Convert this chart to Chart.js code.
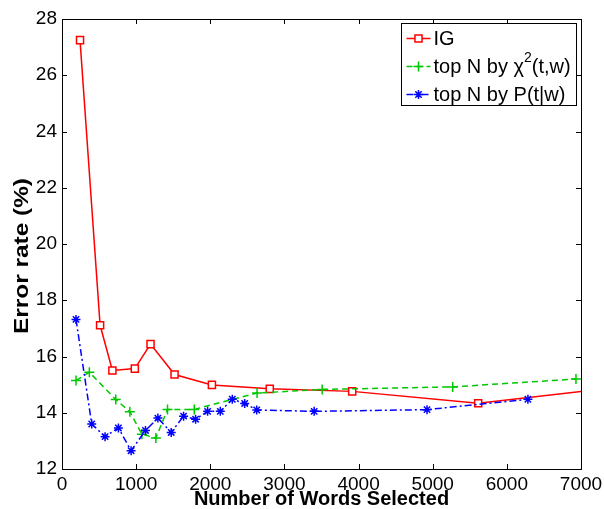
<!DOCTYPE html>
<html>
<head>
<meta charset="utf-8">
<script src="https://cdn.jsdelivr.net/npm/chart.js@4.4.0/dist/chart.umd.min.js"></script>
<style>
  body { margin: 0; background: #fff; }
  #wrap { width: 604px; height: 509px; }
</style>
</head>
<body>
<div id="wrap"><canvas id="errChart" width="604" height="509"></canvas></div>
<script>
// values
const seriesNames = ['IG', 'top N by χ^2(t,w)', 'top N by P(t|w)'];

const igWords = [243, 514, 680, 982, 1194, 1518, 2022, 2802, 3914, 5613, 7800];
const igError = [27.25, 17.11, 15.50, 15.57, 16.44, 15.36, 14.99, 14.85, 14.76, 14.34, 14.99];

const chiWords = [189, 369, 725, 915, 1077, 1266, 1423, 1784, 2631, 3509, 5270, 6932];
const chiError = [15.15, 15.44, 14.47, 14.04, 13.24, 13.10, 14.12, 14.12, 14.70, 14.83, 14.92, 15.20];

const ptwWords = [189, 401, 581, 761, 932, 1126, 1293, 1473, 1640, 1802, 1964, 2135, 2297, 2464, 2626, 3401, 4923, 6284];
const ptwError = [17.32, 13.60, 13.15, 13.46, 12.65, 13.37, 13.81, 13.30, 13.88, 13.77, 14.05, 14.05, 14.48, 14.33, 14.10, 14.05, 14.11, 14.48];

const xTicks = [0, 1000, 2000, 3000, 4000, 5000, 6000, 7000];
const yTicks = [12, 14, 16, 18, 20, 22, 24, 26, 28];

const FONT = '"Liberation Sans", Arial, Helvetica, sans-serif';

function toPoints(xs, ys) {
  return xs.map((x, i) => ({ x: x, y: ys[i] }));
}

// draws one marker the way the chart does (used by the legend)
function drawMarker(ctx, style, x, y, r) {
  ctx.beginPath();
  if (style === 'rect') {
    const s = r / Math.SQRT2;
    ctx.rect(x - s, y - s, 2 * s, 2 * s);
    ctx.fill();
  } else if (style === 'cross') {
    ctx.moveTo(x - r, y); ctx.lineTo(x + r, y);
    ctx.moveTo(x, y - r); ctx.lineTo(x, y + r);
  } else {
    const d = r * Math.SQRT1_2;
    ctx.moveTo(x - r, y); ctx.lineTo(x + r, y);
    ctx.moveTo(x, y - r); ctx.lineTo(x, y + r);
    ctx.moveTo(x - d, y - d); ctx.lineTo(x + d, y + d);
    ctx.moveTo(x - d, y + d); ctx.lineTo(x + d, y - d);
  }
  ctx.stroke();
}

// box round the plot with inward ticks on all four sides
const framePlugin = {
  id: 'frame',
  afterDatasetsDraw(chart) {
    const { ctx, chartArea: a, scales } = chart;
    ctx.save();
    ctx.strokeStyle = '#000';
    ctx.lineWidth = 1;
    ctx.setLineDash([]);
    ctx.beginPath();
    xTicks.slice(1, -1).forEach(v => {
      const px = Math.round(scales.x.getPixelForValue(v)) + 0.5;
      ctx.moveTo(px, a.bottom); ctx.lineTo(px, a.bottom - 5);
      ctx.moveTo(px, a.top); ctx.lineTo(px, a.top + 5);
    });
    yTicks.slice(1, -1).forEach(v => {
      const py = Math.round(scales.y.getPixelForValue(v)) + 0.5;
      ctx.moveTo(a.left, py); ctx.lineTo(a.left + 5, py);
      ctx.moveTo(a.right, py); ctx.lineTo(a.right - 5, py);
    });
    ctx.stroke();
    ctx.strokeRect(Math.round(a.left) + 0.5, Math.round(a.top) + 0.5,
      Math.round(a.right - a.left), Math.round(a.bottom - a.top));
    ctx.restore();
  }
};

// y axis title, a bit stretched along its length like the original
const yTitlePlugin = {
  id: 'yTitle',
  afterDraw(chart) {
    const ctx = chart.ctx;
    ctx.save();
    ctx.translate(22, 256);
    ctx.rotate(-Math.PI / 2);
    ctx.scale(1.22, 1);
    ctx.font = 'bold 20px ' + FONT;
    ctx.fillStyle = '#000';
    ctx.textAlign = 'center';
    ctx.textBaseline = 'middle';
    ctx.fillText('Error rate (%)', 0, 0);
    ctx.restore();
  }
};

// legend box in the top right corner of the plot
const legendPlugin = {
  id: 'boxLegend',
  afterDraw(chart) {
    const ctx = chart.ctx;
    const a = chart.chartArea;
    const boxW = 175, boxH = 82;
    const bx = Math.round(a.right - 5 - boxW) + 0.5;
    const by = Math.round(a.top + 4) + 0.5;
    ctx.save();
    ctx.fillStyle = '#fff';
    ctx.fillRect(bx, by, boxW, boxH);
    ctx.strokeStyle = '#000';
    ctx.lineWidth = 1;
    ctx.strokeRect(bx, by, boxW, boxH);

    chart.data.datasets.forEach((ds, i) => {
      const rowY = by + 15 + i * 28;
      const x0 = bx + 5, x1 = bx + 29;
      ctx.strokeStyle = ds.borderColor;
      ctx.lineWidth = ds.borderWidth;
      ctx.setLineDash(ds.borderDash || []);
      ctx.beginPath();
      ctx.moveTo(x0, rowY); ctx.lineTo(x1, rowY);
      ctx.stroke();
      ctx.setLineDash([]);
      ctx.fillStyle = ds.pointBackgroundColor;
      ctx.lineWidth = ds.pointBorderWidth;
      drawMarker(ctx, ds.pointStyle, (x0 + x1) / 2, rowY, ds.pointRadius);

      // label, with "^2" drawn as a superscript
      ctx.fillStyle = '#000';
      ctx.textBaseline = 'middle';
      let tx = bx + 32;
      const parts = seriesNames[i].split('^');
      parts.forEach((part, k) => {
        let txt = part;
        if (k > 0) {
          const sup = part.charAt(0);
          txt = part.slice(1);
          ctx.font = '14px ' + FONT;
          ctx.fillText(sup, tx, rowY - 8);
          tx += ctx.measureText(sup).width;
        }
        ctx.font = '20px ' + FONT;
        ctx.fillText(txt, tx, rowY + 1);
        tx += ctx.measureText(txt).width;
      });
    });
    ctx.restore();
  }
};

new Chart(document.getElementById('errChart'), {
  type: 'scatter',
  data: {
    datasets: [
      {
        label: seriesNames[0],
        data: toPoints(igWords, igError),
        showLine: true,
        borderColor: '#ff0000',
        borderWidth: 1.5,
        pointStyle: 'rect',
        pointRadius: 5,
        pointBorderWidth: 1.5,
        pointBorderColor: '#ff0000',
        pointBackgroundColor: '#ffffff',
        order: 3
      },
      {
        label: seriesNames[1],
        data: toPoints(chiWords, chiError),
        showLine: true,
        borderColor: 'rgb(0,200,0)',
        borderWidth: 1.5,
        borderDash: [6, 4],
        pointStyle: 'cross',
        pointRadius: 5,
        pointBorderWidth: 1.5,
        pointBorderColor: 'rgb(0,200,0)',
        pointBackgroundColor: 'rgb(0,200,0)',
        order: 2
      },
      {
        label: seriesNames[2],
        data: toPoints(ptwWords, ptwError),
        showLine: true,
        borderColor: '#0000ff',
        borderWidth: 1.5,
        borderDash: [7, 3, 2, 3],
        pointStyle: 'star',
        pointRadius: 4.5,
        pointBorderWidth: 1.5,
        pointBorderColor: '#0000ff',
        pointBackgroundColor: '#0000ff',
        order: 1
      }
    ]
  },
  options: {
    responsive: false,
    animation: false,
    devicePixelRatio: 1,
    layout: { padding: { top: 19, right: 23, left: 0, bottom: 0 } },
    plugins: {
      legend: { display: false },
      tooltip: { enabled: false }
    },
    scales: {
      x: {
        type: 'linear',
        min: 0,
        max: 7000,
        afterBuildTicks: s => { s.ticks = xTicks.map(v => ({ value: v })); },
        afterFit: s => { s.height = 40; s.paddingLeft = 0; s.paddingRight = 0; },
        grid: { display: false, drawTicks: false },
        border: { display: false },
        ticks: {
          color: '#000',
          padding: 4,
          maxRotation: 0,
          callback: v => String(v),
          font: { family: FONT, size: 19 }
        },
        title: {
          display: true,
          text: 'Number of Words Selected',
          color: '#000',
          padding: { top: 0, bottom: 0 },
          font: { family: FONT, size: 20, weight: 'bold', lineHeight: 1 }
        }
      },
      y: {
        min: 12,
        max: 28,
        afterBuildTicks: s => { s.ticks = yTicks.map(v => ({ value: v })); },
        afterFit: s => { s.width = 62; s.paddingTop = 0; s.paddingBottom = 0; },
        grid: { display: false, drawTicks: false },
        border: { display: false },
        ticks: {
          color: '#000',
          padding: 5,
          callback: v => String(v),
          font: { family: FONT, size: 19 }
        }
      }
    }
  },
  plugins: [framePlugin, legendPlugin, yTitlePlugin]
});
</script>
</body>
</html>
